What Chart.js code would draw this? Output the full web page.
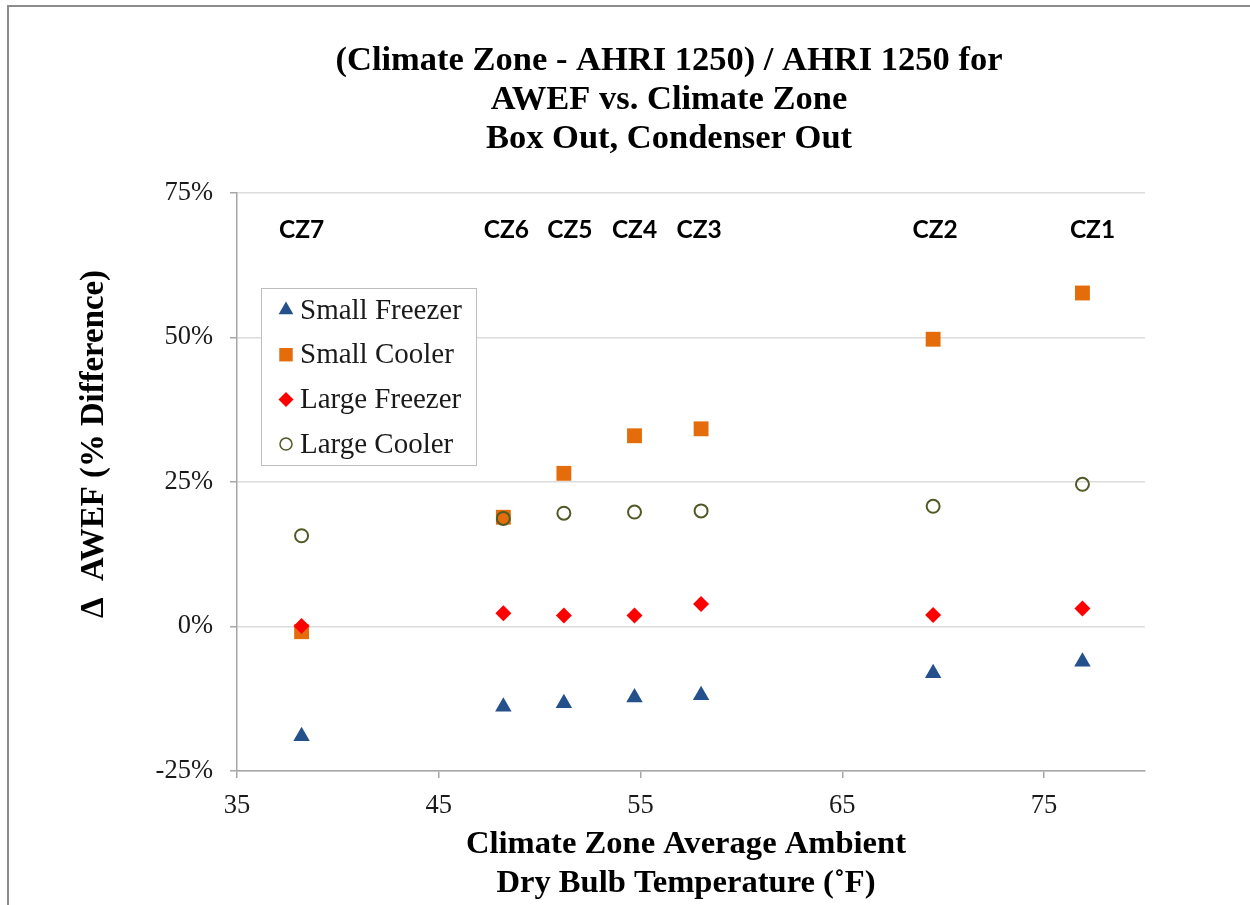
<!DOCTYPE html>
<html>
<head>
<meta charset="utf-8">
<script src="https://cdn.jsdelivr.net/npm/chart.js@4.4.0/dist/chart.umd.min.js"></script>
<style>
  body { margin: 0; background: #fff; overflow: hidden; }
  #frame { position: absolute; left: 7px; top: 5px; width: 1300px; height: 1000px;
           border-top: 2px solid #8c8c8c; border-left: 2px solid #8c8c8c; }
  #chart { position: absolute; left: 0; top: 0; }
</style>
</head>
<body>
<div id="frame"></div>
<canvas id="chart" width="1250" height="905"></canvas>
<script>
"use strict";

// climate zones and their average ambient dry bulb temperature (F)
const zoneLabels = ['CZ7', 'CZ6', 'CZ5', 'CZ4', 'CZ3', 'CZ2', 'CZ1'];
const zoneTemps = [38.2, 48.2, 51.2, 54.7, 58.0, 69.5, 76.9];
const zoneLabelTemps = [38.2, 48.35, 51.5, 54.7, 57.9, 69.6, 77.4];
const zoneLabelLevel = 68.5;

// % difference of AWEF vs AHRI 1250
const smallFreezer = [-19.0, -13.9, -13.3, -12.3, -11.9, -8.1, -6.1];
const smallCooler = [-0.9, 18.9, 26.5, 33.0, 34.2, 49.7, 57.7];
const largeFreezer = [0.1, 2.3, 1.9, 1.9, 3.9, 2.0, 3.1];
const largeCooler = [15.7, 18.7, 19.6, 19.8, 20.0, 20.8, 24.6];

const xTicks = [35, 45, 55, 65, 75];
const yTicks = [-25, 0, 25, 50, 75];

const titleLines = ['(Climate Zone - AHRI 1250) / AHRI 1250 for', 'AWEF vs. Climate Zone', 'Box Out, Condenser Out'];
const xTitleLines = ['Climate Zone Average Ambient', 'Dry Bulb Temperature (\u02daF)'];
const yTitle = '\u0394  AWEF (% Difference)';

const serif = '"Liberation Serif", "Times New Roman", serif';

function points(values) {
  return zoneTemps.map(function(t, i) { return {x: t, y: values[i]}; });
}

// titles, zone labels and the legend box
const decorations = {
  id: 'decorations',
  afterDraw: function(chart) {
    const ctx = chart.ctx;
    const xs = chart.scales.x;
    const ys = chart.scales.y;
    ctx.save();
    ctx.fillStyle = '#000';
    ctx.textAlign = 'center';
    ctx.textBaseline = 'middle';

    ctx.font = 'bold 34.5px ' + serif;
    titleLines.forEach(function(line, i) {
      ctx.fillText(line, 669, 61 + i * 39);
    });

    ctx.font = 'bold 32.6px ' + serif;
    xTitleLines.forEach(function(line, i) {
      ctx.fillText(line, 686, 845 + i * 39);
    });

    ctx.save();
    ctx.translate(95, 444);
    ctx.rotate(-Math.PI / 2);
    ctx.font = 'bold 32.8px ' + serif;
    ctx.fillText(yTitle, 0, 0);
    ctx.restore();

    ctx.font = 'bold 24.5px Lato, "Liberation Sans", sans-serif';
    zoneLabels.forEach(function(lbl, i) {
      ctx.fillText(lbl, xs.getPixelForValue(zoneLabelTemps[i]), ys.getPixelForValue(zoneLabelLevel));
    });

    // legend
    ctx.fillStyle = '#fff';
    ctx.fillRect(261, 288, 216, 178);
    ctx.strokeStyle = '#bdbdbd';
    ctx.lineWidth = 1;
    ctx.strokeRect(261.5, 288.5, 215, 177);
    ctx.font = '29px ' + serif;
    ctx.textAlign = 'left';
    chart.data.datasets.forEach(function(ds, i) {
      const y = 310 + i * 44.7;
      ctx.fillStyle = ds.backgroundColor;
      ctx.strokeStyle = ds.borderColor;
      ctx.lineWidth = ds.legendBorder;
      Chart.helpers.drawPoint(ctx, {pointStyle: ds.pointStyle, radius: ds.legendRadius, rotation: 0, borderWidth: ds.legendBorder}, 286, y);
      ctx.fillStyle = '#1a1a1a';
      ctx.fillText(ds.label, 300, y + 1);
    });
    ctx.restore();
  }
};

new Chart(document.getElementById('chart'), {
  type: 'scatter',
  data: {
    datasets: [
      {
        label: 'Small Freezer', data: points(smallFreezer), order: 4,
        pointStyle: 'triangle', pointRadius: 9.5, backgroundColor: '#24508c', borderColor: '#24508c', borderWidth: 0,
        legendRadius: 8.5, legendBorder: 0
      },
      {
        label: 'Small Cooler', data: points(smallCooler), order: 3,
        pointStyle: 'rect', pointRadius: 10.5, backgroundColor: '#e46c0a', borderColor: '#e46c0a', borderWidth: 0,
        legendRadius: 9.5, legendBorder: 0
      },
      {
        label: 'Large Freezer', data: points(largeFreezer), order: 2,
        pointStyle: 'rectRot', pointRadius: 8, backgroundColor: '#ff0000', borderColor: '#ff0000', borderWidth: 0,
        legendRadius: 7.5, legendBorder: 0
      },
      {
        label: 'Large Cooler', data: points(largeCooler), order: 1,
        pointStyle: 'circle', pointRadius: 6.5, backgroundColor: 'rgba(0,0,0,0)', borderColor: '#4f5a26', borderWidth: 2,
        legendRadius: 6, legendBorder: 1.5
      }
    ]
  },
  options: {
    responsive: false,
    animation: false,
    layout: { padding: { top: 193, right: 105, left: 0, bottom: 0 } },
    plugins: {
      legend: { display: false },
      tooltip: { enabled: false },
      title: { display: false }
    },
    scales: {
      x: {
        type: 'linear', min: 35, max: 80,
        afterFit: function(scale) { scale.height = 134; },
        afterBuildTicks: function(scale) { scale.ticks = xTicks.map(function(v) { return {value: v}; }); },
        ticks: { font: { family: serif, size: 26.5 }, color: '#1a1a1a', padding: 12, maxRotation: 0 },
        grid: { drawOnChartArea: false, drawTicks: true, tickLength: 7, tickColor: '#a6a6a6', lineWidth: 1.5 },
        border: { color: '#a6a6a6', width: 1.5 }
      },
      y: {
        type: 'linear', min: -25, max: 75,
        afterFit: function(scale) { scale.width = 237; },
        afterBuildTicks: function(scale) { scale.ticks = yTicks.map(function(v) { return {value: v}; }); },
        ticks: {
          font: { family: serif, size: 26.5 }, color: '#1a1a1a', padding: 17,
          callback: function(v) { return v + '%'; }
        },
        grid: { color: '#dcdcdc', lineWidth: 1.5, tickLength: 7, tickColor: '#a6a6a6' },
        border: { color: '#a6a6a6', width: 1.5 }
      }
    }
  },
  plugins: [decorations]
});
</script>
</body>
</html>
